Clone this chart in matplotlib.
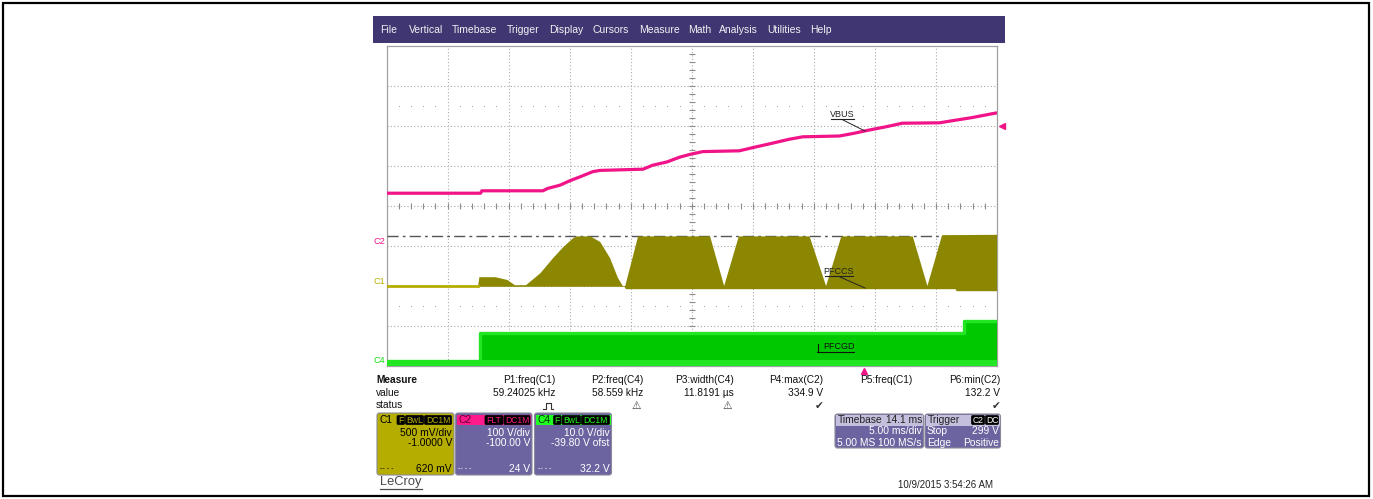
import numpy as np
import matplotlib.pyplot as plt
from matplotlib.patches import Rectangle, FancyBboxPatch

plt.rcParams['font.family'] = ['Liberation Sans', 'DejaVu Sans']

# timebase 5 ms/div, trigger delay 14.1 ms -> screen spans -39.1 .. 10.9 ms
t_start = -39.1
ms_per_div = 5.0

# channel settings (V/div, offset)
c1_scale, c1_ofs = 0.5, -1.0
c2_scale, c2_ofs = 100.0, -100.0
c4_scale, c4_ofs = 10.0, -39.8
trig_level = 299.0

# C2 = VBUS (V)
vbus_t = [-39.1, -31.4, -31.3, -26.3, -25.9, -24.9, -24.1, -23.25, -22.2, -21.6,
          -18.1, -17.3, -16.15, -15.1, -14.25, -13.2, -10.2, -9.1, -7.5, -6.1,
          -5.0, -2.0, -0.95, 0.45, 1.8, 3.15, 6.2, 7.2, 8.85, 10.9]
vbus_v = [132, 132, 138, 138, 144, 152, 163, 173, 186, 189,
          192, 202, 210, 222, 229, 236, 238, 246, 257, 267,
          273, 275, 281, 290, 298, 307, 308, 313, 321, 333]

# C1 = PFCCS envelope (V)
c1_up_t = [-39.1, -31.6, -31.5, -30.2, -29.2, -28.6, -27.7, -27.6, -26.5, -25.45,
           -24.6, -23.8, -23.5, -22.4, -21.6, -20.8, -20.15, -19.75, -19.55, -18.5,
           -12.6, -11.45, -10.25, -4.45, -3.1, -1.85, 4.0, 5.2, 6.4, 10.9]
c1_up_v = [0.0, 0.0, 0.11, 0.11, 0.075, 0.01, 0.01, 0.02, 0.16, 0.35,
           0.49, 0.60, 0.62, 0.62, 0.55, 0.35, 0.10, 0.0, 0.0, 0.62,
           0.62, 0.0, 0.62, 0.62, 0.0, 0.62, 0.62, 0.0, 0.635, 0.64]
c1_lo_t = [-39.1, -19.6, -19.5, 7.5, 7.6, 10.9]
c1_lo_v = [-0.01, -0.01, -0.04, -0.04, -0.065, -0.065]
c1_cursor = 0.62

# C4 = PFCGD band (V)
c4_up_t = [-39.1, -31.45, -31.45, 8.2, 8.2, 10.9]
c4_up_v = [1.1, 1.1, 8.0, 8.0, 11.1, 11.1]
c4_lo_v = -0.2
c4_bright_v = 1.4

menu_items = ['File', 'Vertical', 'Timebase', 'Trigger', 'Display', 'Cursors',
              'Measure', 'Math', 'Analysis', 'Utilities', 'Help']
menu_x = [389, 426, 474.5, 523, 566, 611, 659, 699.5, 738.5, 784, 821]

meas_names = ['P1:freq(C1)', 'P2:freq(C4)', 'P3:width(C4)', 'P4:max(C2)', 'P5:freq(C1)', 'P6:min(C2)']
meas_values = ['59.24025 kHz', '58.559 kHz', '11.8191 µs', '334.9 V', '', '132.2 V']
meas_status = ['pulse', '⚠', '⚠', '✔', '', '✔']
meas_right = [555, 643.5, 734, 823, 912, 1000]

pink = '#f01488'
olive = '#8b8700'
olive_lt = '#b5ad00'
green_dk = '#00c800'
green_lt = '#22e622'
purple = '#6c64a0'

fig = plt.figure(figsize=(13.73, 4.99), dpi=100)

# screen rectangle in figure fractions (pixels 386.6..997, 46..366)
W, H = 1373, 499
rect = [386.6 / W, (H - 366) / H, 610.4 / W, 320 / H]

# graticule
gax = fig.add_axes(rect, label='grid', zorder=1)
gax.set_xlim(0, 10)
gax.set_ylim(-4, 4)
gax.set_xticks([])
gax.set_yticks([])
for s in gax.spines.values():
    s.set_color('#a0a0a0')
    s.set_linewidth(0.9)
for i in range(1, 10):
    gax.axvline(i, ls=(0, (1, 2)), color='#a9a9a9', lw=0.8)
for j in range(-3, 4):
    gax.axhline(j, ls=(0, (1, 2)), color='#a9a9a9', lw=0.8)
xs = np.arange(0.2, 10, 0.2)
ys = np.arange(-3.8, 4, 0.2)
gax.vlines(xs, -0.075, 0.075, color='#8c8c8c', lw=0.8)
gax.hlines(ys, 4.95, 5.05, color='#8c8c8c', lw=0.8)
dots = xs[np.abs(xs - np.round(xs)) > 0.05]
for yy in (2.5, -2.5):
    gax.plot(dots, np.full(len(dots), yy), ls='none', marker='s', ms=0.6,
             mew=0, color='#999999')


def chan_axes(scale, ofs, name, z):
    a = fig.add_axes(rect, label=name, zorder=z)
    a.set_xlim(t_start, t_start + 10 * ms_per_div)
    a.set_ylim(-4 * scale - ofs, 4 * scale - ofs)
    a.axis('off')
    a.patch.set_alpha(0)
    return a


ax1 = chan_axes(c1_scale, c1_ofs, 'c1', 2)
ax4 = chan_axes(c4_scale, c4_ofs, 'c4', 3)
ax2 = chan_axes(c2_scale, c2_ofs, 'c2', 4)

# C1
ax1.axhline(c1_cursor, color='#555555', lw=1.0, ls=(0, (8, 3, 2, 3)), zorder=1)
ax1.fill(np.concatenate([c1_up_t, c1_lo_t[::-1]]),
         np.concatenate([c1_up_v, c1_lo_v[::-1]]), color=olive, lw=0, zorder=2)
ax1.plot(c1_up_t[:2], c1_up_v[:2], color=olive_lt, lw=2.0, zorder=3)

# C4
ax4.fill_between(c4_up_t, c4_lo_v, c4_up_v, color=green_dk, lw=0)
ax4.fill_between([c4_up_t[0], c4_up_t[-1]], c4_lo_v, c4_bright_v, color=green_lt, lw=0)
ax4.plot(c4_up_t, c4_up_v, color=green_lt, lw=2.4)

# C2
ax2.plot(vbus_t, vbus_v, color=pink, lw=2.3, solid_capstyle='butt')
ax2.plot([1.008], [trig_level], marker='<', color=pink, ms=5, ls='none',
         transform=ax2.get_yaxis_transform(), clip_on=False)
ax2.plot([0], [-0.016], marker='^', color=pink, ms=5, ls='none',
         transform=ax2.get_xaxis_transform(), clip_on=False)

# channel ground markers at left
for a, name, col in [(ax2, 'C2', pink), (ax1, 'C1', olive_lt), (ax4, 'C4', '#10e010')]:
    a.text(-0.002, 0.0, name, color=col, fontsize=6.6, ha='right', va='bottom',
           transform=a.get_yaxis_transform(), clip_on=False)

# overlay for UI
bg = fig.add_axes([0, 0, 1, 1], label='ui', zorder=10)
bg.set_xlim(0, W)
bg.set_ylim(H, 0)
bg.axis('off')
bg.patch.set_alpha(0)

bg.add_patch(Rectangle((3, 3), 1366, 493, fill=False, ec='black', lw=1.6))
bg.add_patch(Rectangle((373, 16), 632, 27, fc='#3f3672', ec='none'))
for name, x in zip(menu_items, menu_x):
    bg.text(x, 30, name, color='#f2f2f2', fontsize=7.5, ha='center', va='center')

# trace annotations
bg.text(842.5, 114.5, 'VBUS', fontsize=6.5, ha='center', va='center', color='#222222')
bg.plot([831, 854], [119, 119], color='#222222', lw=0.8)
bg.plot([843, 865], [120, 131], color='#222222', lw=0.7)
bg.text(839, 271, 'PFCCS', fontsize=6.5, ha='center', va='center', color='#222222')
bg.plot([825, 853], [276, 276], color='#222222', lw=0.8)
bg.plot([840, 865], [277, 288], color='#222222', lw=0.7)
bg.text(838.5, 346.5, 'PFCGD', fontsize=6.5, ha='center', va='center', color='#111111')
bg.plot([817, 854], [351.5, 351.5], color='#111111', lw=0.8)
bg.plot([818, 818], [344, 351.5], color='#111111', lw=0.8)

# measurement table
bg.text(376, 380, 'Measure', fontsize=7.3, fontweight='bold', va='center', color='#111111')
bg.text(376, 393, 'value', fontsize=7.3, va='center', color='#111111')
bg.text(376, 405.5, 'status', fontsize=7.3, va='center', color='#111111')
for nm, val, st, xr in zip(meas_names, meas_values, meas_status, meas_right):
    bg.text(xr, 380, nm, fontsize=7.3, ha='right', va='center', color='#111111')
    bg.text(xr, 393, val, fontsize=7.3, ha='right', va='center', color='#111111')
    if st == 'pulse':
        # pulse-width glyph (no installed font has it)
        xc = xr - 7
        bg.plot([xc - 5, xc - 2.5, xc - 2.5, xc + 2.5, xc + 2.5, xc + 5],
                [408.5, 408.5, 402.5, 402.5, 408.5, 408.5], color='#333333', lw=0.8)
    elif st:
        bg.text(xr - (4 if st == '✔' else 7), 405.5, st, fontsize=7.6, ha='center', va='center',
                color='#333333', family=['DejaVu Sans'])


def rbox(x0, y0, x1, y1, fc, ec='#8a8a9a', r=2.5, lw=0.8):
    bg.add_patch(FancyBboxPatch((x0, y0), x1 - x0, y1 - y0,
                                boxstyle='round,pad=0,rounding_size=%g' % r,
                                fc=fc, ec=ec, lw=lw))


def badge(x0, x1, text, col, y0=415.5, y1=424.5):
    rbox(x0, y0, x1, y1, 'black', ec='black', r=1.2, lw=0.5)
    bg.text((x0 + x1) / 2, (y0 + y1) / 2 + 0.3, text, fontsize=6.2, color=col,
            ha='center', va='center')


# channel descriptor boxes
ch_boxes = [
    ('C1', 377, 454, olive_lt, olive_lt, 'black', olive_lt,
     [('F', 397, 404.5), ('BwL', 405.5, 423.5), ('DC1M', 424.5, 451.5)],
     ['500 mV/div', '-1.0000 V', '620 mV']),
    ('C2', 455.5, 532, purple, '#ff1a8c', '#5a0030', '#ff1a8c',
     [('FLT', 485, 503), ('DC1M', 504, 530)],
     ['100 V/div', '-100.00 V', '24 V']),
    ('C4', 534.5, 611.5, purple, '#22ff22', '#003300', '#22ff22',
     [('F', 553.5, 561), ('BwL', 562, 580.5), ('DC1M', 581.5, 609.5)],
     ['10.0 V/div', '-39.80 V ofst', '32.2 V']),
]
for name, x0, x1, body, head, headtxt, bcol, badges, lines in ch_boxes:
    rbox(x0, 413, x1, 475, body)
    bg.add_patch(Rectangle((x0 + 1, 414.5), x1 - x0 - 2, 10.5, fc=head, ec='none'))
    bg.text(x0 + 3, 420, name, fontsize=7.4, color=headtxt, va='center')
    for b, bx0, bx1 in badges:
        badge(bx0, bx1, b, bcol)
    tc = 'black' if name == 'C1' else 'white'
    bg.text(x1 - 2, 433, lines[0], fontsize=7.4, color=tc, ha='right', va='center')
    bg.text(x1 - 2, 443.5, lines[1], fontsize=7.4, color=tc, ha='right', va='center')
    bg.text(x1 - 2, 469, lines[2], fontsize=7.4, color=tc, ha='right', va='center')
    bg.text(x0 + 3, 468.5, '-- - -', fontsize=5, color=tc, va='center')

# timebase and trigger boxes
rbox(835, 414, 923.5, 448, purple)
bg.add_patch(Rectangle((836, 415), 86.5, 10.5, fc='#c3bfdc', ec='none'))
bg.text(837.5, 420.3, 'Timebase', fontsize=7.4, color='#222222', va='center')
bg.text(922, 420.3, '14.1 ms', fontsize=7.4, color='#222222', va='center', ha='right')
bg.text(922, 431.5, '5.00 ms/div', fontsize=7.4, color='white', va='center', ha='right')
bg.text(837, 442.5, '5.00 MS', fontsize=7.4, color='white', va='center')
bg.text(922, 442.5, '100 MS/s', fontsize=7.4, color='white', va='center', ha='right')

rbox(925, 414, 1000.5, 448, purple)
bg.add_patch(Rectangle((926, 415), 73.5, 10.5, fc='#c3bfdc', ec='none'))
bg.text(927.5, 420.3, 'Trigger', fontsize=7.4, color='#222222', va='center')
badge(971.5, 984.5, 'C2', 'white')
badge(985.5, 998.5, 'DC', 'white')
bg.text(927, 431.5, 'Stop', fontsize=7.4, color='white', va='center')
bg.text(999, 431.5, '299 V', fontsize=7.4, color='white', va='center', ha='right')
bg.text(927, 442.5, 'Edge', fontsize=7.4, color='white', va='center')
bg.text(999, 442.5, 'Positive', fontsize=7.4, color='white', va='center', ha='right')

# footer
bg.text(380, 482.5, 'LeCroy', fontsize=9.3, color='#4a4a4a', va='center')
bg.plot([380, 422], [488.5, 488.5], color='#4a4a4a', lw=0.9)
bg.text(993, 484.5, '10/9/2015 3:54:26 AM', fontsize=7, color='#222222', va='center', ha='right')

fig.savefig('out.png', dpi=100)
plt.close()
